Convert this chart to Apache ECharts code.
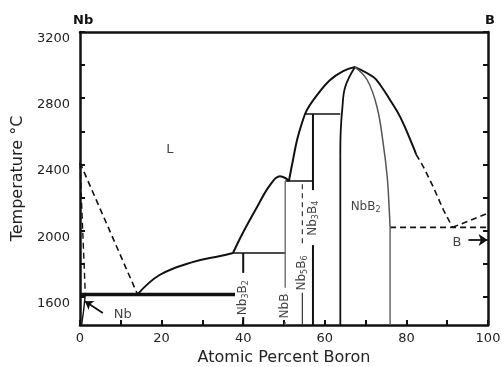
<!DOCTYPE html>
<html>
<head>
<meta charset="utf-8">
<script src="https://cdn.jsdelivr.net/npm/echarts@6/dist/echarts.min.js"></script>
<style>
  html, body { margin: 0; padding: 0; background: #fff; }
  #chart { width: 502px; height: 367px; }
</style>
</head>
<body>
<div id="chart"></div>
<script>
// axes
const xTicks = [0, 10, 20, 30, 40, 50, 60, 70, 80, 90, 100]
const xLabels = [0, 20, 40, 60, 80, 100]
const yTicks = [1600, 1800, 2000, 2200, 2400, 2600, 2800, 3000, 3200]
const yLabels = [1600, 2000, 2400, 2800, 3200]

// phase boundaries, [at.% B, °C]
const nbLiquidus = [[0, 2410], [14.1, 1615]]
const nbSolidus = [[0, 2410], [0.5, 2100], [1.0, 1800], [1.3, 1615]]
const nbSolvus = [[1.3, 1615], [0.9, 1520], [0.4, 1430]]
const eutectic = [[0, 1615], [38, 1615]]
const liq1 = [[14.1, 1615], [19.5, 1732], [27.6, 1810], [34.4, 1847], [37.5, 1865]]
const liq2 = [[37.5, 1865], [39.9, 1986], [43.4, 2143], [46.6, 2276], [49.0, 2328], [50.3, 2318], [51.2, 2300]]
const liq3 = [[51.2, 2300], [52.2, 2427], [53.2, 2547], [54.4, 2650], [55.6, 2728], [58.1, 2819], [61.3, 2910], [64.5, 2964], [67.4, 2988]]
const liq4 = [[67.4, 2988], [71.9, 2928], [73.6, 2880], [76.0, 2789], [78.5, 2686], [81.7, 2505], [82.4, 2460]]
const liq4Dashed = [[82.4, 2460], [84.2, 2384], [86.6, 2263], [89.1, 2124], [91.3, 2020]]
const bLiquidus = [[91.3, 2020], [100, 2105]]
const bEutectic = [[76.0, 2020], [100, 2020]]
const nb3b2Peritectic = [[37.5, 1865], [50.3, 1865]]
const nbbLine = [[50.3, 2300], [57.1, 2300]]
const nb3b4Peritectic = [[55.2, 2705], [63.8, 2705]]
const nb3b2Upper = [[40, 1865], [40, 1745]]
const nb3b2Lower = [[40, 1478], [40, 1430]]
const nbbUpper = [[50.3, 2300], [50.3, 1655]]
const nbbLower = [[50.3, 1448], [50.3, 1430]]
const nb5b6Upper = [[54.5, 2280], [54.5, 1915]]
const nb5b6Lower = [[54.5, 1625], [54.5, 1430]]
const nb3b4Upper = [[57.1, 2705], [57.1, 2245]]
const nb3b4Lower = [[57.1, 1913], [57.1, 1430]]
const nbb2Left = [[67.4, 2988], [65.0, 2868], [64.3, 2740], [63.9, 2600], [63.8, 2450]]
const nbb2LeftLow = [[63.8, 2450], [63.8, 1430]]
const nbb2Right = [[67.4, 2988], [70.4, 2910], [72.8, 2747], [74.3, 2529], [75.3, 2324], [75.8, 2124], [76.0, 2020]]
const nbb2RightLow = [[76.0, 2020], [76.0, 1430]]

// annotations
const labelL = [22, 2487]
const labelNbB2 = [70.0, 2143]
const labelNb3B2 = [40, 1595]
const labelNbB = [50.3, 1545]
const labelNb5B6 = [54.5, 1744]
const labelNb3B4 = [57.1, 2075]
const labelNb = [10.5, 1495]
const labelB = [92.4, 1925]
const arrowNb = [[5.6, 1503], [1.2, 1574]]
const arrowB = [[95.2, 1943], [99.9, 1943]]

const FONT = 'DejaVu Sans'
const INK = '#111'

const chart = echarts.init(document.getElementById('chart'))

function line(data, width, opts) {
  return Object.assign({
    type: 'line',
    data: data,
    showSymbol: false,
    symbol: 'none',
    silent: true,
    lineStyle: { color: INK, width: width }
  }, opts || {})
}

function dashed(data, width) {
  return line(data, width, { lineStyle: { color: INK, width: width, type: [6, 4] } })
}

const rich = {
  n: { fontFamily: FONT, fontSize: 12, color: INK, lineHeight: 14 },
  s: { fontFamily: FONT, fontSize: 8, color: INK, lineHeight: 6, verticalAlign: 'bottom' }
}

function textAt(pos, text, rotate, size) {
  return {
    type: 'scatter',
    data: [pos],
    symbolSize: 0,
    silent: true,
    clip: false,
    label: {
      show: true,
      position: 'inside',
      rotate: rotate || 0,
      formatter: text,
      rich: rich,
      fontFamily: FONT,
      fontSize: size || 12,
      color: INK
    }
  }
}

function arrow(pts, symbolSize) {
  return {
    type: 'line',
    data: [],
    silent: true,
    markLine: {
      silent: true,
      symbol: ['none', 'arrow'],
      symbolSize: symbolSize,
      label: { show: false },
      lineStyle: { color: INK, width: 1.8, type: 'solid' },
      data: [[{ coord: pts[0] }, { coord: pts[1] }]]
    }
  }
}

const axisLineStyle = { color: INK, width: 2.5 }

const option = {
  animation: false,
  grid: { left: 80, right: 14, top: 32, bottom: 42, outerBoundsMode: 'none', containLabel: false },
  xAxis: [
    {
      type: 'value', min: 0, max: 100, position: 'bottom',
      axisLine: { onZero: false, lineStyle: axisLineStyle },
      axisTick: { inside: true, length: 5, customValues: xTicks, lineStyle: { color: INK, width: 2 } },
      axisLabel: { customValues: xLabels, margin: 7, fontFamily: FONT, fontSize: 13, color: '#222' },
      splitLine: { show: false },
      name: 'Atomic Percent Boron', nameLocation: 'middle', nameGap: 19,
      nameTextStyle: { fontFamily: FONT, fontSize: 16, color: '#222' }
    },
    {
      type: 'value', min: 0, max: 100, position: 'top',
      axisLine: { onZero: false, lineStyle: axisLineStyle },
      axisTick: { show: false }, axisLabel: { show: false }, splitLine: { show: false }
    }
  ],
  yAxis: [
    {
      type: 'value', min: 1430, max: 3200, position: 'left',
      axisLine: { onZero: false, lineStyle: axisLineStyle },
      axisTick: { inside: true, length: 5, customValues: yTicks, lineStyle: { color: INK, width: 2 } },
      axisLabel: {
        customValues: yLabels, margin: 10, verticalAlign: 'top',
        formatter: v => String(v),
        fontFamily: FONT, fontSize: 13, color: '#222'
      },
      splitLine: { show: false },
      name: 'Temperature °C', nameLocation: 'middle', nameGap: 50, nameRotate: 90,
      nameTextStyle: { fontFamily: FONT, fontSize: 16, color: '#222' }
    },
    {
      type: 'value', min: 1430, max: 3200, position: 'right',
      axisLine: { onZero: false, lineStyle: axisLineStyle },
      axisTick: { inside: true, length: 5, customValues: yTicks, lineStyle: { color: INK, width: 2 } },
      axisLabel: { show: false }, splitLine: { show: false }
    }
  ],
  graphic: [
    { type: 'text', left: 73, top: 14, style: { text: 'Nb', font: 'bold 13px "DejaVu Sans"', fill: INK } },
    { type: 'text', left: 485, top: 14, style: { text: 'B', font: 'bold 13px "DejaVu Sans"', fill: INK } }
  ],
  series: [
    dashed(nbLiquidus, 1.6),
    dashed(nbSolidus, 1.4),
    line(nbSolvus, 1.4),
    line(eutectic, 3.5),
    line(liq1, 2, { smooth: 0.4 }),
    line(liq2, 2, { smooth: 0.4 }),
    line(liq3, 2, { smooth: 0.4 }),
    line(liq4, 2, { smooth: 0.4 }),
    dashed(liq4Dashed, 1.6),
    dashed(bLiquidus, 1.6),
    dashed(bEutectic, 1.6),
    line(nb3b2Peritectic, 1.5),
    line(nbbLine, 1.5),
    line(nb3b4Peritectic, 1.5),
    line(nb3b2Upper, 2),
    line(nb3b2Lower, 2),
    line(nbbUpper, 1.5, { lineStyle: { color: '#777', width: 1.5 } }),
    line(nbbLower, 1.5, { lineStyle: { color: '#777', width: 1.5 } }),
    line(nb5b6Upper, 1.2, { lineStyle: { color: '#333', width: 1.2, type: [5, 4] } }),
    line(nb5b6Lower, 1.2, { lineStyle: { color: '#333', width: 1.2 } }),
    line(nb3b4Upper, 2),
    line(nb3b4Lower, 2),
    line(nbb2Left, 1.8, { smooth: 0.4 }),
    line(nbb2LeftLow, 1.8),
    line(nbb2Right, 1.5, { smooth: 0.4, lineStyle: { color: '#555', width: 1.5 } }),
    line(nbb2RightLow, 1.5, { lineStyle: { color: '#666', width: 1.5 } }),
    textAt(labelL, 'L', 0, 13),
    textAt(labelNbB2, '{n|NbB}{s|2}', 0),
    textAt(labelNb3B2, '{n|Nb}{s|3}{n|B}{s|2}', 90),
    textAt(labelNbB, '{n|NbB}', 90),
    textAt(labelNb5B6, '{n|Nb}{s|5}{n|B}{s|6}', 90),
    textAt(labelNb3B4, '{n|Nb}{s|3}{n|B}{s|4}', 90),
    textAt(labelNb, 'Nb', 0, 13),
    textAt(labelB, 'B', 0, 13),
    arrow(arrowNb, 8),
    arrow(arrowB, 9)
  ]
}

chart.setOption(option)
</script>
</body>
</html>
